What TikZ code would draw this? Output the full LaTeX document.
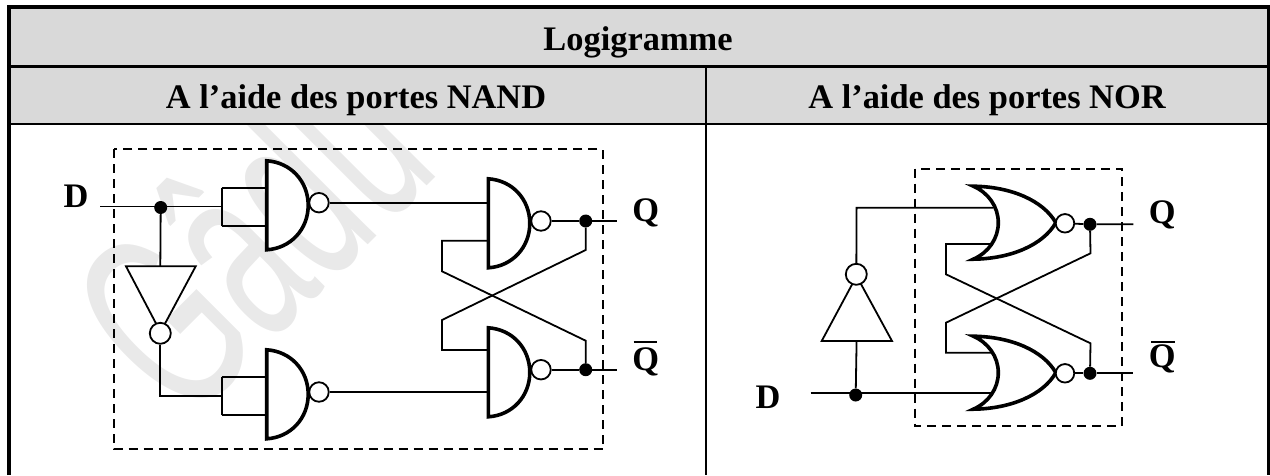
\documentclass[tikz,border=0pt]{standalone}
\usepackage{fontspec}
\setmainfont{Liberation Serif}
\newfontfamily\wmfont{Liberation Sans}
\definecolor{hdr}{HTML}{D9D9D9}
\definecolor{wm}{HTML}{E9E9E9}
\tikzset{
  wire/.style={line width=1.8pt,line join=miter},
  box/.style={line width=1.8pt,dash pattern=on 9pt off 6pt},
  gate/.style={line width=3.6pt,fill=white,line join=miter},
  inv/.style={line width=1.8pt,fill=white,line join=miter},
  bubble/.style={circle,draw,line width=1.8pt,fill=white,inner sep=0pt,minimum size=19.5pt},
  jdot/.style={circle,fill=black,inner sep=0pt,minimum size=13pt},
  lab/.style={inner sep=0pt,anchor=base,font=\bfseries\fontsize{34.4}{40}\selectfont},
  border/.style={line width=4pt},
  rule/.style={line width=1.8pt},
  pics/nandg/.style={code={
    \draw[gate] (0,-44.5) -- (0,44.5) .. controls (24,43) and (41.5,24) .. (41.5,0) .. controls (41.5,-24) and (24,-43) .. (0,-44.5) -- cycle;
  }},
  pics/norg/.style={code={
    \draw[gate] (0,-36.5) .. controls (15,-30) and (25,-16) .. (25,0) .. controls (25,16) and (15,30) .. (0,36.5)
      .. controls (38,36) and (70,22) .. (82.5,0) .. controls (70,-22) and (38,-36) .. (0,-36.5) -- cycle;
  }}
}
\begin{document}
\begin{tikzpicture}[x=1pt,y=-1pt]
\useasboundingbox (0,0) rectangle (1270,475);
% watermark
\begin{scope}
\clip (0,0) rectangle (1270,475);
\node[inner sep=0pt,anchor=base west,rotate=45,xscale=.57,text=wm,font=\wmfont\fontsize{260}{270}\selectfont] (water) at (186,427) {Gâdu};
\end{scope}
% table
\fill[hdr] (9,6) rectangle (1268,123.8);
\draw[rule] (706,66) -- (706,475);
\draw[border] (9,475) -- (9,6.7) -- (1268.5,6.7) -- (1268.5,475);
\draw[line width=3pt] (9,66.5) -- (1268.5,66.5);
\draw[rule] (9,123.8) -- (1268.5,123.8);
\node[lab] (title) at (638,50) {Logigramme};
\node[lab] (hnand) at (356,108) {A l’aide des portes NAND};
\node[lab] (hnor) at (987,108) {A l’aide des portes NOR};
% ---------- NAND circuit
\draw[box] (113.7,149.3) rectangle (603,449.3);
\node[lab] (dA) at (76,207.5) {D};
\node[lab] (qA) at (645.7,221) {Q};
\node[lab] (nqA) at (645.7,370.5) {Q};
\coordinate (nqAbarL) at (633.5,341.5);
\coordinate (nqAbarR) at (657,341.5);
\draw[line width=2pt] (nqAbarL) -- (nqAbarR);
\coordinate (dAin) at (100,206.5);
\coordinate (brA) at (221.7,206.5);
\coordinate (brAt) at (221.7,188);
\coordinate (brAb) at (221.7,226.3);
\coordinate (g1t) at (266.7,188);
\coordinate (g1b) at (266.7,226.3);
\coordinate (brB) at (221.7,395.7);
\coordinate (brBt) at (221.7,377.3);
\coordinate (brBb) at (221.7,415.3);
\coordinate (g2t) at (266.7,377.3);
\coordinate (g2b) at (266.7,415.3);
\coordinate (bendB) at (160.3,395.7);
\coordinate (g3a) at (488.3,202.7);
\coordinate (g3b) at (488.3,240.7);
\coordinate (g4a) at (488.3,350);
\coordinate (g4b) at (488.3,392);
\coordinate (fbA1) at (442,240.7);
\coordinate (fbA2) at (442,271.3);
\coordinate (fbA3) at (585.7,340.7);
\coordinate (fbB1) at (585.7,250);
\coordinate (fbB2) at (442,320);
\coordinate (fbB3) at (442,350);
\coordinate (qAout) at (616.7,221);
\coordinate (nqAout) at (616.7,369.7);
\node[jdot] (jA) at (160.7,207.5) {};
\node[jdot] (jQ) at (585.7,221) {};
\node[jdot] (jNQ) at (585.7,369.7) {};
\coordinate (invAt) at (160.3,266.3);
\draw[wire] (dAin) -- (brA);
\draw[wire] (brAb) -- (brAt);
\draw[wire] (brAt) -- (g1t) (brAb) -- (g1b);
\draw[wire] (brBb) -- (brBt);
\draw[wire] (brBt) -- (g2t) (brBb) -- (g2b);
\draw[wire] (jA) -- (invAt);
\draw[inv] (126,266.3) -- (195.7,266.3) -- (160.5,332) -- cycle;
\node[bubble,minimum size=21pt] (binvA) at (160.3,333.3) {};
\draw[wire] (binvA) -- (bendB) -- (brB);
\pic at (266.7,205.3) {nandg};
\pic at (266.7,394.3) {nandg};
\pic at (488.3,223.3) {nandg};
\pic at (488.3,372.3) {nandg};
\node[bubble] (b1) at (319,202.7) {};
\node[bubble] (b2) at (319,392) {};
\node[bubble] (b3) at (541,221) {};
\node[bubble] (b4) at (541,369.7) {};
\draw[wire] (b1) -- (g3a);
\draw[wire] (b2) -- (g4b);
\draw[wire] (b3) -- (jQ) -- (qAout);
\draw[wire] (b4) -- (jNQ) -- (nqAout);
\draw[wire] (g3b) -- (fbA1) -- (fbA2) -- (fbA3) -- (jNQ);
\draw[wire] (jQ) -- (fbB1) -- (fbB2) -- (fbB3) -- (g4a);
% ---------- NOR circuit
\draw[box] (914.7,168.7) rectangle (1122,426.3);
\node[lab] (dB) at (768,408) {D};
\node[lab] (qB) at (1162.3,223) {Q};
\node[lab] (nqB) at (1162.3,367.5) {Q};
\coordinate (nqBbarL) at (1151,341.5);
\coordinate (nqBbarR) at (1174.5,341.5);
\draw[line width=2pt] (nqBbarL) -- (nqBbarR);
\coordinate (dBin) at (810.7,393.3);
\coordinate (n2a) at (993.3,393.3);
\coordinate (n2b) at (993.3,352.7);
\coordinate (n1a) at (993.3,207.7);
\coordinate (n1b) at (990,244);
\coordinate (bendN) at (856.6,207.7);
\coordinate (invBb) at (856.6,341);
\coordinate (fC1) at (946,244);
\coordinate (fC2) at (946,274.3);
\coordinate (fC3) at (1090.5,343.3);
\coordinate (fD1) at (1090.5,253.3);
\coordinate (fD2) at (946,322.7);
\coordinate (fD3) at (946,352.7);
\coordinate (qBout) at (1133.3,224.3);
\coordinate (nqBout) at (1133.3,373.3);
\node[jdot] (jD) at (855.7,395) {};
\node[jdot] (jQb) at (1090,224.3) {};
\node[jdot] (jNQb) at (1090,373.3) {};
\draw[wire] (dBin) -- (n2a);
\draw[wire] (jD) -- (invBb);
\draw[inv] (821.7,341) -- (892,341) -- (856.6,276) -- cycle;
\node[bubble,minimum size=21pt] (binvB) at (856.3,274.3) {};
\draw[wire] (binvB) -- (bendN) -- (n1a);
\draw[wire] (n1b) -- (fC1) -- (fC2) -- (fC3) -- (jNQb);
\draw[wire] (jQb) -- (fD1) -- (fD2) -- (fD3) -- (n2b);
\pic at (973.3,222.7) {norg};
\pic at (973.3,372.7) {norg};
\node[bubble,minimum size=18.5pt] (b5) at (1065,223.3) {};
\node[bubble,minimum size=18.5pt] (b6) at (1065,373.3) {};
\draw[wire] (b5) -- (jQb) -- (qBout);
\draw[wire] (b6) -- (jNQb) -- (nqBout);
\end{tikzpicture}
\end{document}
